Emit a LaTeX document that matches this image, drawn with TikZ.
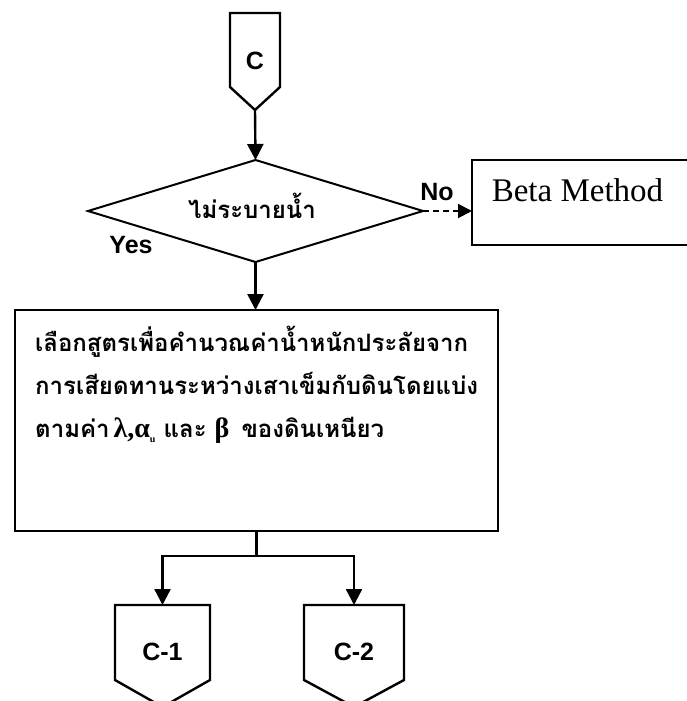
\documentclass[tikz,border=0pt]{standalone}
\usepackage{fontspec}
\setmainfont{Liberation Serif}
\newfontfamily\thaifont[Script=Thai]{Loma}
\newfontfamily\arialfont{Liberation Sans}
\usetikzlibrary{arrows.meta,shapes.geometric,calc}
\tikzset{
  edge/.style={line width=2.4pt},
  arr/.style={line width=2.4pt,-{Triangle[length=16pt,width=16pt]}},
  darr/.style={line width=2pt,dash pattern=on 6pt off 4pt,-{Triangle[length=14pt,width=14pt]}},
  blank/.style={inner sep=0pt,outer sep=0pt},
  sanslbl/.style={inner sep=0pt,font=\arialfont\bfseries\fontsize{25}{28}\selectfont},
  thailine/.style={inner sep=0pt,anchor=base west,font=\thaifont\bfseries\fontsize{24}{28}\selectfont},
}
\begin{document}
\begin{tikzpicture}[x=1pt,y=-1pt]
\useasboundingbox (0,0) rectangle (687,701);
\clip (0,0) rectangle (687,701);
\fill[white] (0,0) rectangle (687,701);

% top off-page connector C
\node[blank,minimum width=50pt,minimum height=74pt] (C) at (255,50) {};
\draw[edge,line join=miter] (C.north west) -- (C.north east) -- (C.south east) -- ($(C.south)+(0,23)$) coordinate (Ctip) -- (C.south west) -- cycle;
\node[sanslbl] (Clbl) at (255,61) {C};

% decision diamond
\node[blank,diamond,draw,line width=2pt,minimum width=335pt,minimum height=102pt,aspect=3.3] (D) at (255.5,211) {};
\node[inner sep=0pt,font=\thaifont\bfseries\fontsize{24}{28}\selectfont] (Dlbl) at (252,206) {ไม่ระบายน้ำ};
\node[sanslbl] (yes) at (131,245) {Yes};
\node[sanslbl] (no) at (437,192) {No};

% Beta method box
\node[blank,draw,line width=2.4pt,minimum width=240pt,minimum height=85pt,anchor=north west] (B) at (472,160) {};
\node[inner sep=0pt,font=\fontsize{33}{36}\selectfont] (Blbl) at (577.5,190) {Beta Method};

% main process box
\node[blank,draw,line width=2.4pt,minimum width=483pt,minimum height=221pt] (P) at (256.5,420.5) {};
\node[thailine] (L1) at (35,351) {เลือกสูตรเพื่อคำนวณค่าน้ำหนักประลัยจาก};
\node[thailine] (L2) at (35,394) {การเสียดทานระหว่างเสาเข็มกับดินโดยแบ่ง};
\node[thailine] (L3) at (35,437) {ตามค่า\,{\rmfamily\bfseries\fontsize{28}{30}\selectfont λ,α}{\rmfamily\bfseries\fontsize{10}{10}\selectfont\raisebox{-5pt}{u}} และ {\rmfamily\bfseries\fontsize{28}{30}\selectfont β}\, ของดินเหนียว};

% bottom off-page connectors
\node[blank,minimum width=95pt,minimum height=75pt,anchor=north] (C1) at (162.5,605) {};
\draw[edge,line join=miter] (C1.north west) -- (C1.north east) -- (C1.south east) -- ($(C1.south)+(0,27)$) -- (C1.south west) -- cycle;
\node[sanslbl] (C1lbl) at (162.5,652) {C-1};
\node[blank,minimum width=100pt,minimum height=75pt,anchor=north] (C2) at (354,605) {};
\draw[edge,line join=miter] (C2.north west) -- (C2.north east) -- (C2.south east) -- ($(C2.south)+(0,27)$) -- (C2.south west) -- cycle;
\node[sanslbl] (C2lbl) at (354,652) {C-2};

% connectors
\draw[arr] (Ctip) -- (D.north);
\draw[darr] (D.east) -- (D.east -| B.west);
\draw[arr] (D.south) -- (P.north -| D.south);
\coordinate (J) at ($(P.south)+(0,25)$);
\draw[edge] (P.south) -- (J);
\draw[arr] (J) -| (C1.north);
\draw[arr] (J) -| (C2.north);
\end{tikzpicture}
\end{document}
